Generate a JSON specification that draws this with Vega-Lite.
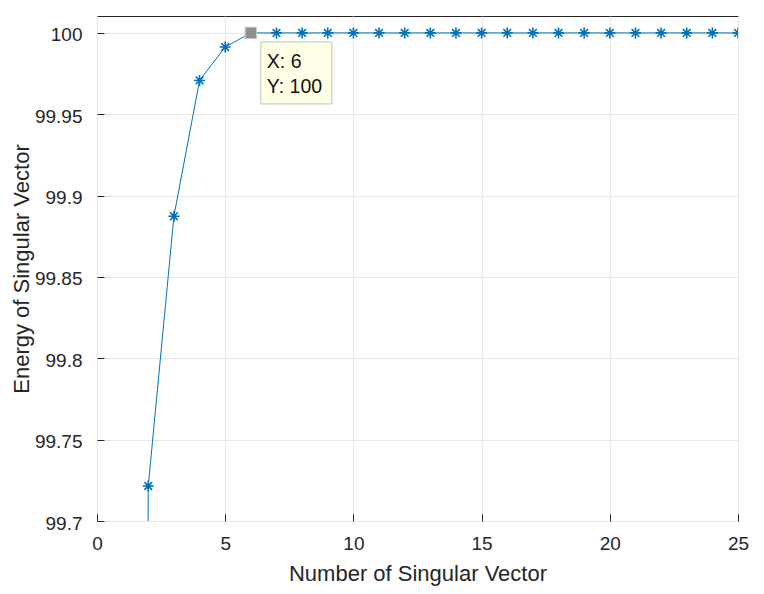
{
  "$schema": "https://vega.github.io/schema/vega-lite/v6.json",
  "width": 641,
  "height": 505,
  "autosize": "none",
  "padding": {"left": 97, "top": 16, "right": 26, "bottom": 73},
  "background": "white",
  "config": {
    "view": {"stroke": "#262626", "strokeWidth": 1},
    "font": "Liberation Sans",
    "axis": {
      "domain": false,
      "grid": true,
      "gridColor": "#e6e6e6",
      "gridWidth": 1,
      "labelFlush": false,
      "labelColor": "#262626",
      "labelFont": "Liberation Sans",
      "labelFontSize": 19,
      "titleColor": "#262626",
      "titleFont": "Liberation Sans",
      "titleFontSize": 22,
      "titleFontWeight": "normal"
    }
  },
  "data": {
    "values": [
      {"n": 1, "e": 96.5},
      {"n": 2, "e": 99.7215},
      {"n": 3, "e": 99.8873},
      {"n": 4, "e": 99.9708},
      {"n": 5, "e": 99.9913},
      {"n": 6, "e": 100},
      {"n": 7, "e": 100},
      {"n": 8, "e": 100},
      {"n": 9, "e": 100},
      {"n": 10, "e": 100},
      {"n": 11, "e": 100},
      {"n": 12, "e": 100},
      {"n": 13, "e": 100},
      {"n": 14, "e": 100},
      {"n": 15, "e": 100},
      {"n": 16, "e": 100},
      {"n": 17, "e": 100},
      {"n": 18, "e": 100},
      {"n": 19, "e": 100},
      {"n": 20, "e": 100},
      {"n": 21, "e": 100},
      {"n": 22, "e": 100},
      {"n": 23, "e": 100},
      {"n": 24, "e": 100},
      {"n": 25, "e": 100}
    ]
  },
  "encoding": {
    "x": {
      "field": "n",
      "type": "quantitative",
      "scale": {"domain": [0, 25], "nice": false, "zero": false},
      "axis": {
        "values": [0, 5, 10, 15, 20, 25],
        "title": "Number of Singular Vector",
        "ticks": true,
        "tickSize": -7,
        "tickColor": "#262626",
        "tickWidth": 1,
        "labelPadding": 20,
        "titleY": 52,
        "titleBaseline": "middle"
      }
    },
    "y": {
      "field": "e",
      "type": "quantitative",
      "scale": {"domain": [99.7, 100.0104], "nice": false, "zero": false},
      "axis": {
        "values": [99.7, 99.75, 99.8, 99.85, 99.9, 99.95, 100],
        "format": ".4~f",
        "title": "Energy of Singular Vector",
        "ticks": true,
        "tickSize": -7,
        "tickColor": "#262626",
        "tickWidth": 1,
        "labelPadding": 22,
        "labelOffset": 2,
        "titleX": -76,
        "titleBaseline": "middle"
      }
    }
  },
  "layer": [
    {
      "mark": {"type": "line", "clip": true, "color": "#0072BD", "strokeWidth": 1}
    },
    {
      "transform": [{"filter": "datum.n != 6"}],
      "mark": {
        "type": "point",
        "clip": true,
        "filled": false,
        "shape": "M0,-1L0,1M-1,0L1,0M-0.7,-0.7L0.7,0.7M-0.7,0.7L0.7,-0.7",
        "color": "#0072BD",
        "strokeWidth": 1.6,
        "size": 121,
        "opacity": 1
      }
    },
    {
      "transform": [{"filter": "datum.n == 6"}],
      "mark": {
        "type": "point",
        "shape": "square",
        "filled": true,
        "fill": "#8f8f8f",
        "stroke": "#c8c8c8",
        "strokeWidth": 1,
        "size": 130,
        "opacity": 1
      }
    },
    {
      "transform": [{"filter": "datum.n == 6"}],
      "mark": {
        "type": "rect",
        "fill": "#ffffe6",
        "stroke": "#c2c2b0",
        "strokeWidth": 1,
        "xOffset": 10,
        "x2Offset": 81,
        "yOffset": 9,
        "y2Offset": 71
      },
      "encoding": {
        "x2": {"field": "n"},
        "y2": {"field": "e"}
      }
    },
    {
      "transform": [
        {"filter": "datum.n == 6"},
        {"calculate": "'X: ' + datum.n", "as": "lx"}
      ],
      "mark": {
        "type": "text",
        "align": "left",
        "baseline": "alphabetic",
        "dx": 16,
        "dy": 35,
        "fontSize": 19.5,
        "font": "Liberation Sans",
        "color": "#111111"
      },
      "encoding": {"text": {"field": "lx"}}
    },
    {
      "transform": [
        {"filter": "datum.n == 6"},
        {"calculate": "'Y: ' + datum.e", "as": "ly"}
      ],
      "mark": {
        "type": "text",
        "align": "left",
        "baseline": "alphabetic",
        "dx": 16,
        "dy": 60,
        "fontSize": 19.5,
        "font": "Liberation Sans",
        "color": "#111111"
      },
      "encoding": {"text": {"field": "ly"}}
    }
  ]
}
